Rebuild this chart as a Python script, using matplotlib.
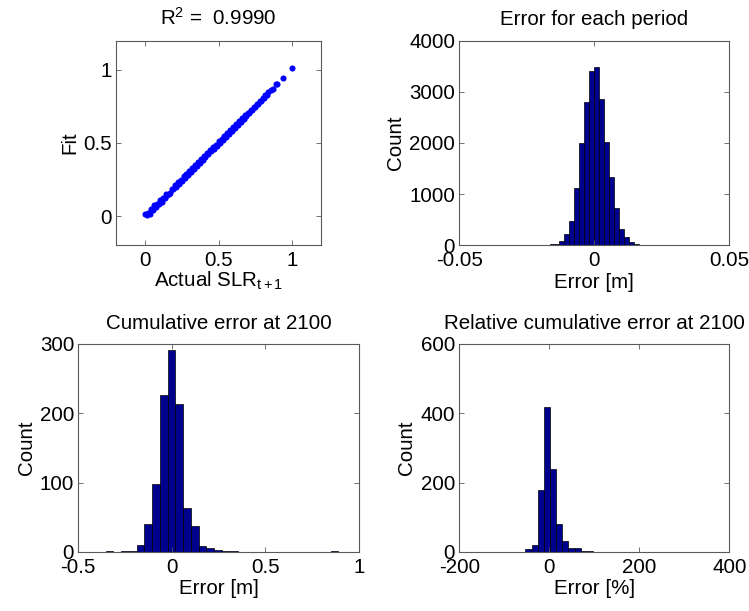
import numpy as np
import matplotlib
matplotlib.use("Agg")
import matplotlib.pyplot as plt

plt.rcParams["font.family"] = ["Liberation Sans", "DejaVu Sans"]
plt.rcParams["axes.unicode_minus"] = False
plt.rcParams["mathtext.fontset"] = "custom"
plt.rcParams["mathtext.rm"] = "Liberation Sans"
plt.rcParams["mathtext.it"] = "Liberation Sans"

# --- fit vs. actual SLR_{t+1} -------------------------------------------
slr_actual = [
    0.00, 0.01, 0.02, 0.03, 0.04, 0.05, 0.06, 0.07, 0.08, 0.09,
    0.10, 0.11, 0.12, 0.13, 0.14, 0.15, 0.16, 0.17, 0.18, 0.19,
    0.20, 0.21, 0.22, 0.23, 0.24, 0.25, 0.26, 0.27, 0.28, 0.29,
    0.30, 0.31, 0.32, 0.33, 0.34, 0.35, 0.36, 0.37, 0.38, 0.39,
    0.40, 0.41, 0.42, 0.43, 0.44, 0.45, 0.46, 0.47, 0.48, 0.49,
    0.50, 0.51, 0.52, 0.53, 0.54, 0.55, 0.56, 0.57, 0.58, 0.59,
    0.60, 0.61, 0.62, 0.63, 0.64, 0.65, 0.66, 0.67, 0.68, 0.69,
    0.70, 0.71, 0.72, 0.73, 0.74, 0.75, 0.76, 0.77, 0.78, 0.79,
    0.80, 0.81, 0.82, 0.83, 0.84, 0.86, 0.87, 0.89, 0.90, 0.94,
    1.00,
]
slr_fit = [
    0.012, 0.004, 0.024, 0.017, 0.049, 0.038, 0.074, 0.060, 0.083, 0.083,
    0.111, 0.098, 0.125, 0.126, 0.153, 0.141, 0.151, 0.156, 0.188, 0.187,
    0.211, 0.200, 0.231, 0.218, 0.249, 0.243, 0.272, 0.261, 0.288, 0.281,
    0.311, 0.298, 0.327, 0.322, 0.352, 0.340, 0.369, 0.363, 0.391, 0.380,
    0.409, 0.403, 0.431, 0.421, 0.449, 0.443, 0.471, 0.460, 0.489, 0.482,
    0.510, 0.501, 0.529, 0.522, 0.549, 0.541, 0.568, 0.563, 0.590, 0.582,
    0.608, 0.603, 0.628, 0.622, 0.648, 0.643, 0.667, 0.664, 0.688, 0.684,
    0.707, 0.704, 0.727, 0.724, 0.746, 0.745, 0.766, 0.765, 0.786, 0.785,
    0.806, 0.806, 0.826, 0.827, 0.845, 0.865, 0.868, 0.900, 0.905, 0.945,
    1.015,
]
r_squared = 0.9990

# --- histograms: 30 bins over each sample's range ---------------------
period_range = (-0.0312, 0.0237)
period_counts = [
    3, 2, 2, 3, 4, 5, 8, 15, 25, 35,
    85, 215, 480, 1120, 2000, 2790, 3410, 3480, 2860, 2010,
    1330, 720, 320, 165, 65, 26, 12, 6, 3, 2,
]

cum_range = (-0.354, 0.890)
cum_counts = [
    2, 0, 2, 1, 10, 41, 98, 227, 291, 213,
    63, 37, 8, 6, 3, 2, 1, 0, 0, 0,
    0, 0, 0, 0, 0, 0, 0, 0, 0, 1,
]

rel_range = (-53.0, 356.8)
rel_counts = [
    8, 19, 180, 418, 239, 80, 32, 12, 12, 4,
    4, 1, 0, 0, 0, 0, 0, 0, 0, 0,
    0, 0, 0, 0, 0, 0, 0, 0, 0, 1,
]

BAR_FACE = "#00008f"
FRAME = "#5a5a5a"
FS = 14.8


def style_axes(ax):
    for s in ax.spines.values():
        s.set_color(FRAME)
        s.set_linewidth(0.8)
    ax.tick_params(direction="in", top=True, right=True, length=3.5,
                   width=0.6, color=FRAME, labelsize=FS)
    ax.tick_params(axis="x", pad=4)
    ax.tick_params(axis="y", pad=3)


def draw_hist(ax, value_range, counts, xlim, xticks, xlabels, ylim, yticks, title, xlabel):
    n = len(counts)
    edges = np.linspace(value_range[0], value_range[1], n + 1)
    centers = 0.5 * (edges[:-1] + edges[1:])
    ax.bar(centers, counts, width=edges[1] - edges[0], color=BAR_FACE,
           edgecolor="black", linewidth=0.5)
    ax.set_xlim(*xlim)
    ax.set_ylim(*ylim)
    ax.set_xticks(xticks)
    ax.set_xticklabels(xlabels)
    ax.set_yticks(yticks)
    ax.set_yticklabels([str(v) for v in yticks])
    ax.set_title(title, fontsize=FS, pad=11)
    ax.set_xlabel(xlabel, fontsize=FS, labelpad=2)
    ax.set_ylabel("Count", fontsize=FS, labelpad=3)
    style_axes(ax)


fig = plt.figure(figsize=(7.49, 6.11), dpi=100)

ax_fit = fig.add_axes([0.1045, 0.5985, 0.3748, 0.3352])
ax_per = fig.add_axes([0.6132, 0.5985, 0.3605, 0.3352])
ax_cum = fig.add_axes([0.1045, 0.0966, 0.3748, 0.3404])
ax_rel = fig.add_axes([0.6132, 0.0966, 0.3605, 0.3404])

# scatter of fitted against actual values
ax_fit.plot(slr_actual, slr_fit, linestyle="none", marker="o", markersize=4.4,
            markeredgewidth=0, color="#0000ff")
ax_fit.set_xlim(-0.2, 1.2)
ax_fit.set_ylim(-0.2, 1.2)
ax_fit.set_box_aspect(1)
ax_fit.set_xticks([0, 0.5, 1])
ax_fit.set_xticklabels(["0", "0.5", "1"])
ax_fit.set_yticks([0, 0.5, 1])
ax_fit.set_yticklabels(["0", "0.5", "1"])
ax_fit.set_title(f"R$^2$ =  {r_squared:.4f}", fontsize=FS, pad=11)
ax_fit.set_xlabel("Actual SLR$_{\\mathrm{t+1}}$", fontsize=FS, labelpad=0)
ax_fit.set_ylabel("Fit", fontsize=FS, labelpad=3)
style_axes(ax_fit)

draw_hist(ax_per, period_range, period_counts,
          (-0.05, 0.05), [-0.05, 0, 0.05], ["-0.05", "0", "0.05"],
          (0, 4000), [0, 1000, 2000, 3000, 4000],
          "Error for each period", "Error [m]")

draw_hist(ax_cum, cum_range, cum_counts,
          (-0.5, 1.0), [-0.5, 0, 0.5, 1], ["-0.5", "0", "0.5", "1"],
          (0, 300), [0, 100, 200, 300],
          "Cumulative error at 2100", "Error [m]")

draw_hist(ax_rel, rel_range, rel_counts,
          (-200, 400), [-200, 0, 200, 400], ["-200", "0", "200", "400"],
          (0, 600), [0, 200, 400, 600],
          "Relative cumulative error at 2100", "Error [%]")

fig.savefig("out.png", dpi=100)
